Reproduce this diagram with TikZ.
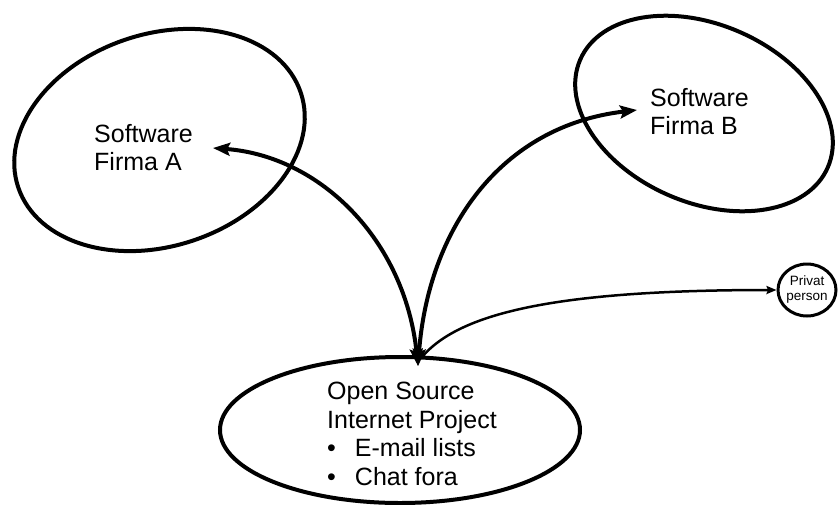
\documentclass[tikz,border=0pt]{standalone}
\usepackage{fontspec}
\setmainfont{Liberation Sans}
\usetikzlibrary{shapes.geometric,arrows.meta}
\begin{document}
\begin{tikzpicture}[x=1pt,y=-1pt,
  bubble/.style={draw=black,ellipse,inner sep=0pt,line width=4pt},
  bigtext/.style={font=\fontsize{25}{28.5}\selectfont,align=left,inner sep=0pt,anchor=north west},
  smalltext/.style={font=\fontsize{13.5}{15}\selectfont,align=center,inner sep=0pt},
  bigarrow/.style={line width=4pt,{Stealth[length=17pt,width=13pt,inset=3pt]}-{Stealth[length=17pt,width=13pt,inset=3pt]}},
  thinarrow/.style={line width=2.5pt,-{Stealth[length=10pt,width=8pt,inset=1.5pt]}}]
\fill[white] (0,0) rectangle (840,504);
\useasboundingbox (0,0) rectangle (840,504);
% bubbles
\node[bubble,minimum width=298pt,minimum height=212pt,rotate=18.5] (ellA) at (159.5,140) {};
\node[bubble,minimum width=270pt,minimum height=178pt,rotate=-23.5] (ellB) at (704,113.5) {};
\node[bubble,minimum width=360pt,minimum height=146pt] (ellP) at (400,430) {};
\node[draw=black,ellipse,line width=3pt,minimum width=58pt,minimum height=52pt,inner sep=0pt] (pp) at (807,290) {};
% texts
\node[bigtext] (tA) at (94,124) {Software\\Firma A};
\node[bigtext] (tB) at (650,88) {Software\\Firma B};
\node[bigtext] (tP) at (327,382) {Open Source\\Internet Project\\\textbullet\hspace{19pt}E-mail lists\\\textbullet\hspace{19pt}Chat fora};
\node[smalltext] (tpp) at (807,290) {Privat\\person};
% connectors
\coordinate (src) at (418,366);
\coordinate (src2) at (422,357);
\coordinate (tipA) at (213,148);
\coordinate (tipB) at (637,110);
\draw[bigarrow] (src) .. controls (405,240) and (320,156) .. (tipA);
\draw[bigarrow] (src) .. controls (428,230) and (500,126) .. (tipB);
\draw[thinarrow] (src2) .. controls (460,312) and (560,290) .. (pp.west);
\end{tikzpicture}
\end{document}
